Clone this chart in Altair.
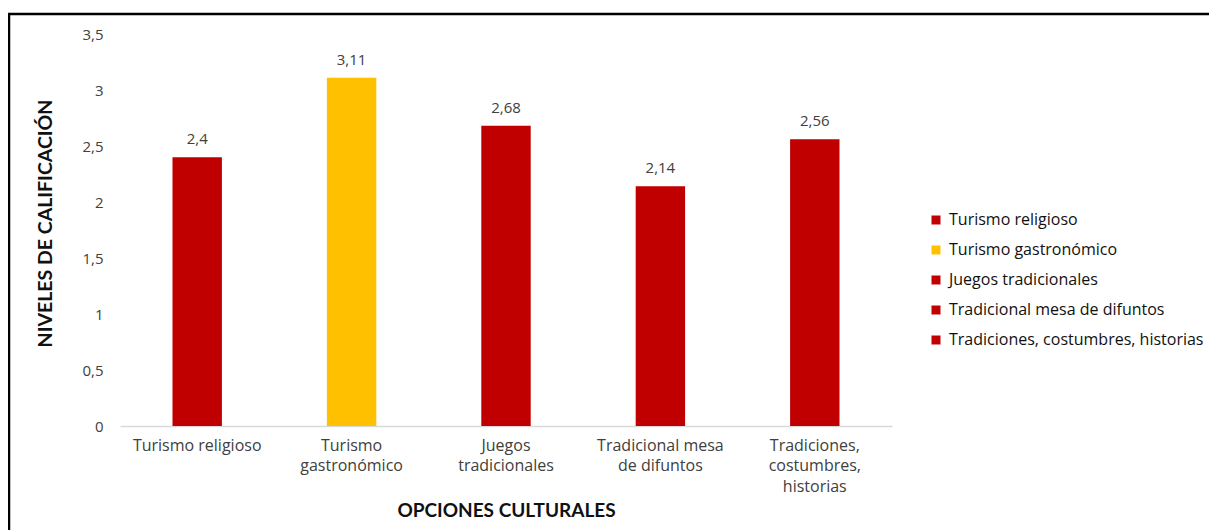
import json
import altair as alt
import pandas as pd

# ---- data ----
categories = [
    "Turismo religioso",
    "Turismo gastronómico",
    "Juegos tradicionales",
    "Tradicional mesa de difuntos",
    "Tradiciones, costumbres, historias",
]
values = [2.4, 3.11, 2.68, 2.14, 2.56]
bar_colors = ["#C00000", "#FFC000", "#C00000", "#C00000", "#C00000"]
x_label_lines = [
    ["Turismo religioso"],
    ["Turismo", "gastronómico"],
    ["Juegos", "tradicionales"],
    ["Tradicional mesa", "de difuntos"],
    ["Tradiciones,", "costumbres,", "historias"],
]
y_ticks = [0, 0.5, 1, 1.5, 2, 2.5, 3, 3.5]

df = pd.DataFrame({"cat": categories, "val": values})

FONT = "'Open Sans', Lato, sans-serif"
TITLE_FONT = "Lato, 'Open Sans', sans-serif"
TXT = "#404040"

# label expression for multi-line category labels
expr = "datum.value"
for cat, lines in reversed(list(zip(categories, x_label_lines))):
    expr = f"datum.value == {json.dumps(cat)} ? {json.dumps(lines)} : ({expr})"

W, H = 772, 392
PL, PT = 112, 26
PR = 1217 - 16 - PL - W
PB = 530 - 8 - PT - H

base = alt.Chart(df)

bars = base.mark_bar().encode(
    x=alt.X(
        "cat:N",
        sort=categories,
        scale=alt.Scale(paddingInner=0.68, paddingOuter=0.34),
        axis=alt.Axis(
            title="OPCIONES CULTURALES",
            labelExpr=expr,
            labelAngle=0,
            labelPadding=19,
            labelFontSize=16,
            labelColor=TXT,
            labelLineHeight=20.5,
            labelBaseline="middle",
            labelLimit=300,
            ticks=False,
            domainColor="#D9D9D9",
            domainWidth=1.5,
            titleFont=TITLE_FONT,
            titleFontSize=19,
            titleFontWeight="bold",
            titleColor="#111111",
            titleX=386,
            titleY=84,
            titleBaseline="middle",
            titleAnchor="start",
            titleAlign="center",
        ),
    ),
    y=alt.Y(
        "val:Q",
        scale=alt.Scale(domain=[0, 3.5], nice=False),
        axis=alt.Axis(
            title="NIVELES DE CALIFICACIÓN",
            values=y_ticks,
            labelExpr="replace(format(datum.value, ''), '.', ',')",
            grid=False,
            domain=False,
            ticks=False,
            labelPadding=17,
            labelFontSize=15,
            labelColor=TXT,
            titleFont=TITLE_FONT,
            titleFontSize=19.5,
            titleFontWeight="bold",
            titleColor="#111111",
            titleAngle=270,
            titleX=-75,
            titleY=189,
            titleAlign="center",
            titleBaseline="middle",
        ),
    ),
    color=alt.Color(
        "cat:N",
        sort=categories,
        scale=alt.Scale(domain=categories, range=bar_colors),
        legend=alt.Legend(
            title=None,
            orient="none",
            legendX=808,
            legendY=178,
            symbolType="square",
            symbolSize=81,
            symbolStrokeWidth=0,
            labelFontSize=16,
            labelColor="#111111",
            labelOffset=5,
            rowPadding=14,
            labelLimit=400,
        ),
    ),
)

labels = base.transform_calculate(
    lab="replace(format(datum.val, ''), '.', ',')"
).mark_text(dy=-18, fontSize=15, color=TXT, font=FONT).encode(
    x=alt.X("cat:N", sort=categories),
    y="val:Q",
    text="lab:N",
)

border = alt.Chart(alt.Data(values=[{}])).mark_rect(
    fill="transparent", stroke="black", strokeWidth=2.5
).encode(
    x=alt.value(-111),
    x2=alt.value(W + PR + 20),
    y=alt.value(-20),
    y2=alt.value(H + PB + 20),
)

chart = (
    alt.layer(border, bars, labels)
    .properties(
        width=W,
        height=H,
        autosize=alt.AutoSizeParams(type="none"),
        padding={"left": PL, "top": PT, "right": PR, "bottom": PB},
    )
    .configure(font=FONT)
    .configure_view(stroke=None)
)

chart.save("out.html", embed_options={"renderer": "svg", "actions": False})
